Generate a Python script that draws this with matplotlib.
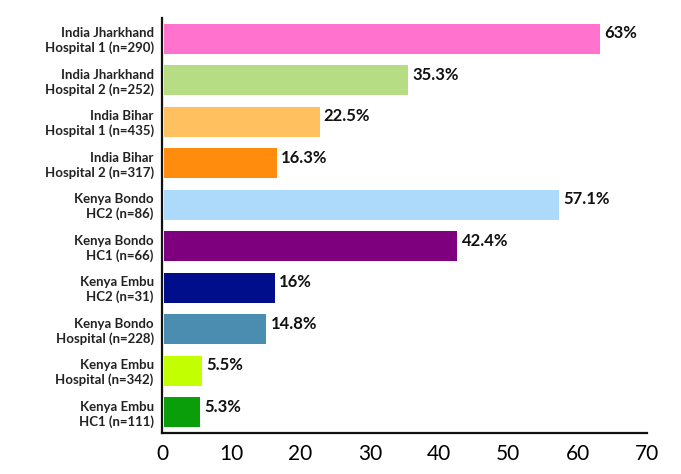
import matplotlib
matplotlib.use("Agg")
import matplotlib.pyplot as plt

categories = [
    "India Jharkhand\nHospital 1 (n=290)",
    "India Jharkhand\nHospital 2 (n=252)",
    "India Bihar\nHospital 1 (n=435)",
    "India Bihar\nHospital 2 (n=317)",
    "Kenya Bondo\nHC2 (n=86)",
    "Kenya Bondo\nHC1 (n=66)",
    "Kenya Embu\nHC2 (n=31)",
    "Kenya Bondo\nHospital (n=228)",
    "Kenya Embu\nHospital (n=342)",
    "Kenya Embu\nHC1 (n=111)",
]
values = [63, 35.3, 22.5, 16.3, 57.1, 42.4, 16, 14.8, 5.5, 5.3]
value_labels = ["63%", "35.3%", "22.5%", "16.3%", "57.1%", "42.4%", "16%", "14.8%", "5.5%", "5.3%"]
colors = ["#FF72CE", "#B6DC84", "#FFC060", "#FF8C0C", "#ADDAFA",
          "#7E007E", "#000E8C", "#4A8DB0", "#C2FF00", "#0A9E0A"]
xticks = [0, 10, 20, 30, 40, 50, 60, 70]

plt.rcParams['font.family'] = ['Lato', 'DejaVu Sans']

fig = plt.figure(figsize=(6.81, 4.74), dpi=100)
ax = fig.add_axes([0.2379, 0.0865, 0.712, 0.8755])

ypos = list(range(len(categories)))
ax.barh(ypos, values, height=0.72, color=colors, left=0.25)
ax.set_ylim(len(categories) - 0.5, -0.5)
ax.set_xlim(0, 70)
ax.set_xticks(xticks)
ax.set_xticklabels([str(t) for t in xticks], fontsize=15)
ax.set_yticks(ypos)
ax.set_yticklabels(categories, fontsize=9.5, fontweight='bold', color='#222222')
ax.tick_params(axis='both', length=0)
ax.tick_params(axis='y', pad=6)
ax.tick_params(axis='x', pad=8)
for s in ['top', 'right']:
    ax.spines[s].set_visible(False)
for s in ['left', 'bottom']:
    ax.spines[s].set_linewidth(1.6)
    ax.spines[s].set_color('#111111')

for y, v, lab in zip(ypos, values, value_labels):
    ax.annotate(lab, xy=(v + 0.25, y), xytext=(3, 4), textcoords='offset points',
                ha='left', va='center', fontsize=12, fontweight='bold', color='#111111')

fig.savefig("out.png", dpi=100)
